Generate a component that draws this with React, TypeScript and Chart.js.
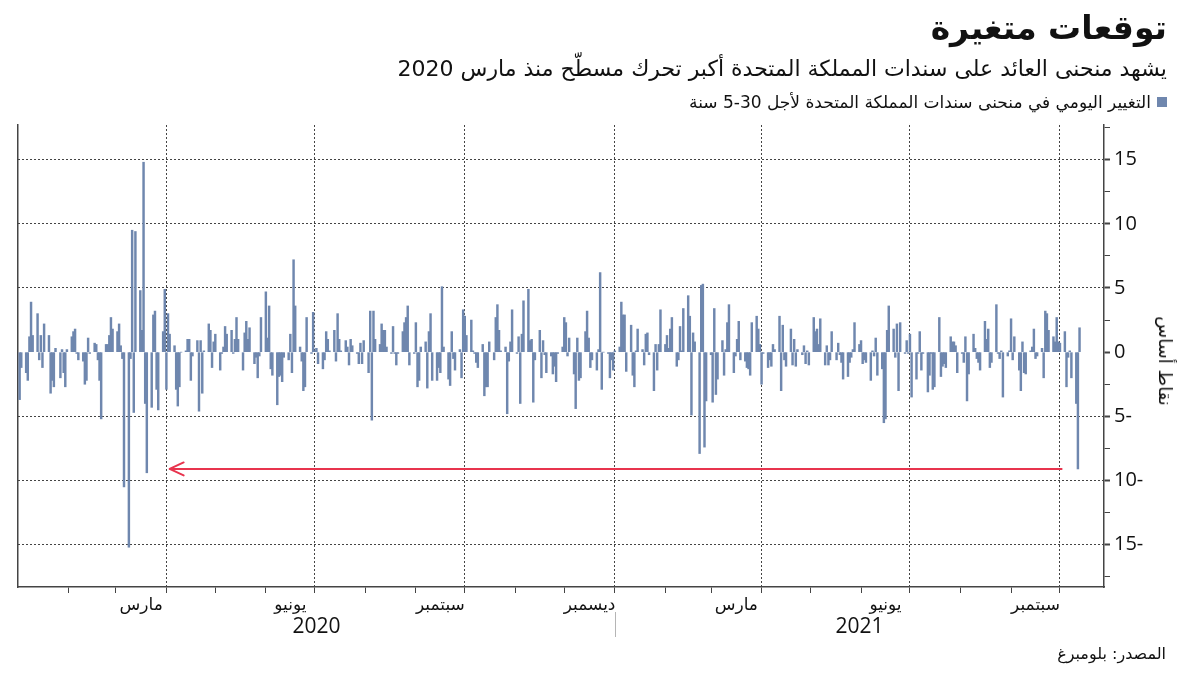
import React, { useEffect, useRef } from "react";
import { Chart, registerables } from "chart.js";

Chart.register(...registerables);

// ---------------- data ----------------
const EPOCH = "2020-01-01";
const FIRST_TRADING_DAY = "2020-01-02";
const X_MAX_DATE = "2021-10-28";

// Daily change in the UK 5s30s gilt curve (bp), one value per weekday
const CHANGES_2020_JAN_APR = [
  -3.7, -1.2, -1.6, -2.2, 1.2, 3.9, 1.3, 3.0, -0.6, 1.3,
  -1.2, 2.2, 1.3, -3.2, -2.2, -2.7, 0.3, -2.0, 0.2, -1.6,
  -2.7, 0.2, 1.2, 1.6, 1.8, -0.1, -0.6, -0.7, -2.5, -2.2,
  1.1, -0.1, 0.7, 0.6, -0.6, -2.2, -5.2, 0.6, 0.6, 1.3,
  2.7, 1.8, 1.6, 2.2, 0.5, -0.5, -10.5, -15.2, -0.5, 9.5,
  -4.7, 9.4, 4.8, 1.7, 14.8, -4.0, -9.4, -4.3, 2.9, 3.2,
  -2.9, -4.5, 1.6, 4.9, -2.9, 3.0, 1.4, 0.5, -2.9, -4.2,
  -2.7, 0.0, 0.1, 1.0, 1.0, -2.2, -0.3,
];
const CHANGES_2020_APR_AUG = [
  0.9, -4.6, 0.9, -3.2, 0.1, 2.2, 1.7, -1.2, 0.8, 1.4,
  -1.4, -0.1, 0.4, 2.0, 1.4, 1.7, -0.1, 1.0, 2.7, 1.0,
  -1.4, 1.5, 2.4, 1.0, 1.9, -0.9, -0.4, -2.0, -0.3, 2.7,
  4.7, 1.1, 3.6, -1.3, -1.8, -4.1, -1.9, -1.8, -2.3, -0.4,
  -0.6, 1.4, -1.6, 7.2, 3.6, 0.4, -0.7, -3.0, -2.7, 2.7,
  -0.1, 3.1, 0.1, 0.3, -0.9, -1.3, -0.6, 1.6, 1.0, 0.1,
  1.7, -0.7, 3.0, 1.0, 0.1, 0.9, 0.4, -1.0, 1.0, 0.5,
  -0.1, -0.9, 0.7, -0.9, 0.9, -1.6,
];
const CHANGES_2020_AUG_NOV = [
  3.2, -5.3, 3.2, 1.0, 0.6, 2.2, 1.7, 1.7, 0.4, -0.1,
  2.0, -0.1, -1.0, -0.1, 1.6, 2.3, 2.7, 3.6, -1.0, -0.1,
  2.3, -2.7, -2.2, 0.4, 0.8, -2.8, 1.6, 3.0, -2.2, -2.2,
  -1.2, -1.6, 5.1, 0.4, -2.1, -2.6, 1.6, -0.5, -1.4, 0.2,
  -2.0, 3.3, 2.8, 1.3, 2.5, 0.1, -0.1, -0.8, -1.2, 0.6,
  -3.4, -2.7, -2.7, 0.8, -0.6, 2.7, 3.7, 1.7, 0.1, 0.4,
  -4.8, -0.7, 0.8, 3.3, -0.1, 1.2, -4.0, 1.4, 4.0, 4.9,
  0.9, 1.0, -3.9, -0.6, 1.7, -2.0, 0.9,
];
const CHANGES_2020_NOV_2021_MAR = [
  -0.2, -1.6, -0.3, -1.7, -1.1, -2.3, -0.1, 0.4, 2.7, 2.3,
  -0.3, 1.1, -1.7, -4.4, 1.1, -2.2, -2.0, 1.6, 3.2, 1.1,
  -1.2, -0.6, -1.4, 0.2, 6.2, -2.9, 0.0, -0.1, -2.0, -0.6,
  -1.4, 0.1, 0.4, 3.9, 2.9, 2.9, -1.5, 2.1, -1.8, -2.7,
  0.1, 1.8, 0.2, -1.0, 1.4, 1.5, -0.2, -3.0, 0.6, -1.4,
  0.6, 3.3, 0.6, 1.3, 0.3, 1.8, 2.7, -1.1, -0.6, 2.0,
  0.1, 3.4, 4.4, 2.8, -4.9, 1.5, 0.8, -7.9, 5.2, 5.3,
  -7.4, -3.8, -0.2, -3.9, 3.4, -3.3, -2.1,
];
const CHANGES_2021_MAR_JUN = [
  0.9, -1.8, 0.2, 2.3, 3.7, -1.6, -0.3, 1.0, 2.4, -0.6,
  -0.7, -1.2, -1.3, -1.8, 2.3, 2.8, 1.8, 0.6, -2.5, -0.1,
  -1.2, -0.6, -1.1, 0.6, 0.2, 2.8, -3.0, 2.1, -0.6, -1.1,
  1.8, -1.0, 1.0, -1.1, 0.2, -0.2, 0.5, -0.9, 0.1, -1.0,
  2.7, 1.6, 1.8, 0.6, 2.6, -1.0, 0.5, -1.0, -0.6, 1.6,
  -0.6, 0.7, -0.2, -0.8, -2.1, -1.9, -0.8, -0.4, 0.2, 2.3,
  0.6, 0.9, -0.9, -0.6, -0.8, -2.2, 0.1, -0.3, 1.1, -1.8,
  -1.3, -5.5, -5.2, 1.7, 3.6,
];
const CHANGES_2021_JUN_OCT = [
  1.8, -0.4, 2.2, -3.0, 2.3, -0.1, 0.9, -0.1, 1.4, -3.5,
  -2.1, -0.1, 1.6, -1.4, -0.1, -3.1, -1.8, -0.1, -2.9, -2.7,
  2.7, -1.9, -1.1, -0.9, -1.2, 1.2, 0.8, 0.8, 0.5, -1.6,
  -0.1, -0.8, 1.2, -3.8, -1.7, 1.4, 0.3, -0.5, -0.8, -1.4,
  2.4, 1.0, 1.8, -1.2, -0.8, 3.7, -0.1, -0.5, 0.1, -3.5,
  -0.3, 0.1, 2.6, -0.6, 1.2, -1.4, -3.0, 0.8, -1.6, -1.7,
  0.1, 0.4, 1.8, -0.5, -0.3, 0.3, -2.0, 3.2, 3.0, 1.7,
  1.2, 0.8, 2.7, 0.8, 0.7, 1.6, -2.7, -0.4, 0.1, -2.0,
  -4.0, -9.1, 1.9,
];

const DAILY_CHANGES = [
  ...CHANGES_2020_JAN_APR,
  ...CHANGES_2020_APR_AUG,
  ...CHANGES_2020_AUG_NOV,
  ...CHANGES_2020_NOV_2021_MAR,
  ...CHANGES_2021_MAR_JUN,
  ...CHANGES_2021_JUN_OCT,
];

const MONTH_NAMES = ["", "", "مارس", "", "", "يونيو", "", "", "سبتمبر", "", "", "ديسمبر"];
const YEARS = [2020, 2021];
const Y_MIN = -18.3;
const Y_MAX = 17.7;
const Y_TICK_STEP = 2.5;
const Y_LABEL_STEP = 5;

const ARROW_VALUE = -9.1;
const ARROW_FROM_DATE = "2021-10-02";
const ARROW_TO_DATE = "2020-04-03";

const TITLE = "توقعات متغيرة";
const SUBTITLE = "يشهد منحنى العائد على سندات المملكة المتحدة أكبر تحرك مسطّح منذ مارس 2020";
const LEGEND_LABEL = "التغيير اليومي في منحنى سندات المملكة المتحدة لأجل 30-5 سنة";
const Y_TITLE = "نقاط أساس";
const SOURCE = "المصدر: بلومبرغ";

const BAR_COLOR = "#6f87ae";
const ARROW_COLOR = "#e8344e";
const ARABIC_FONT = '"DejaVu Sans", sans-serif';
const NUM_FONT = '"Open Sans", "DejaVu Sans", sans-serif';

// ---------------- helpers ----------------
const DAY_MS = 86400000;
const dayOf = (iso: string) => (Date.parse(iso) - Date.parse(EPOCH)) / DAY_MS;
const dayOfYM = (y: number, m: number) => (Date.UTC(y, m, 1) - Date.parse(EPOCH)) / DAY_MS;

function tradingDays(count: number): number[] {
  const out: number[] = [];
  let t = Date.parse(FIRST_TRADING_DAY);
  while (out.length < count) {
    const wd = new Date(t).getUTCDay();
    if (wd !== 0 && wd !== 6) out.push((t - Date.parse(EPOCH)) / DAY_MS);
    t += DAY_MS;
  }
  return out;
}

const X_MIN = 0;
const X_MAX = dayOf(X_MAX_DATE);

type XTick = { value: number; label: string; boundary: boolean; quarter: boolean };
function buildXTicks(): XTick[] {
  const ticks: XTick[] = [];
  for (let i = 0; i < 30; i++) {
    const y = 2020 + Math.floor(i / 12);
    const m = i % 12;
    const start = dayOfYM(y, m);
    const next = dayOfYM(y, m + 1);
    if (start > X_MAX) break;
    ticks.push({ value: start, label: "", boundary: start > X_MIN, quarter: m % 3 === 0 && start > X_MIN });
    const name = MONTH_NAMES[m];
    if (name && next <= X_MAX + 31) {
      ticks.push({ value: (start + next) / 2, label: name, boundary: false, quarter: false });
    }
  }
  return ticks.sort((a, b) => a.value - b.value);
}

const X_TICKS = buildXTicks();
const findXTick = (v: number) => X_TICKS.find((t) => Math.abs(t.value - v) < 1e-6);

const annotationPlugin = {
  id: "annotations",
  afterDatasetsDraw(chart: any) {
    const { ctx, scales } = chart;
    const x = scales.x;
    const y = scales.y;
    const py = y.getPixelForValue(ARROW_VALUE);
    const x1 = x.getPixelForValue(dayOf(ARROW_FROM_DATE));
    const x2 = x.getPixelForValue(dayOf(ARROW_TO_DATE));
    ctx.save();
    ctx.strokeStyle = ARROW_COLOR;
    ctx.lineWidth = 2;
    ctx.lineCap = "round";
    ctx.lineJoin = "round";
    ctx.beginPath();
    ctx.moveTo(x1, py);
    ctx.lineTo(x2, py);
    ctx.moveTo(x2 + 14, py - 6.5);
    ctx.lineTo(x2, py);
    ctx.lineTo(x2 + 14, py + 6.5);
    ctx.stroke();
    ctx.restore();
  },
  afterDraw(chart: any) {
    const { ctx, scales, chartArea } = chart;
    const x = scales.x;
    ctx.save();
    ctx.fillStyle = "#111";
    ctx.font = `21px ${NUM_FONT}`;
    ctx.textAlign = "center";
    ctx.textBaseline = "middle";
    YEARS.forEach((yr) => {
      const s = Math.max(dayOfYM(yr, 0), x.min);
      const e = Math.min(dayOfYM(yr + 1, 0), x.max);
      const cx = (x.getPixelForValue(s) + x.getPixelForValue(e)) / 2;
      ctx.fillText(String(yr), cx, chartArea.bottom + 40);
      const b = dayOfYM(yr + 1, 0);
      if (b > x.min && b < x.max) {
        const bx = Math.round(x.getPixelForValue(b)) + 0.5;
        ctx.strokeStyle = "#b5b5b5";
        ctx.lineWidth = 1;
        ctx.beginPath();
        ctx.moveTo(bx, chartArea.bottom + 25);
        ctx.lineTo(bx, chartArea.bottom + 50);
        ctx.stroke();
      }
    });
    ctx.restore();
  },
};

export default function App() {
  const canvasRef = useRef<HTMLCanvasElement | null>(null);

  useEffect(() => {
    const days = tradingDays(DAILY_CHANGES.length);
    const points = DAILY_CHANGES.map((v, i) => ({ x: days[i], y: v }));
    const yTicks: number[] = [];
    for (let v = Math.ceil(Y_MIN / Y_TICK_STEP) * Y_TICK_STEP; v <= Y_MAX; v += Y_TICK_STEP) yTicks.push(v);
    const isMajor = (v: number) => Math.abs(v / Y_LABEL_STEP - Math.round(v / Y_LABEL_STEP)) < 1e-6;

    const chart = new Chart(canvasRef.current as HTMLCanvasElement, {
      type: "bar",
      data: {
        datasets: [
          {
            data: points as any,
            backgroundColor: BAR_COLOR,
            borderWidth: 0,
            barThickness: 1.8,
          } as any,
        ],
      },
      plugins: [annotationPlugin],
      options: {
        responsive: false,
        animation: false,
        devicePixelRatio: 1,
        layout: { padding: { left: 18, top: 125, right: 36, bottom: 60 } },
        plugins: { legend: { display: false }, tooltip: { enabled: false } },
        scales: {
          x: {
            type: "linear",
            offset: false,
            min: X_MIN,
            max: X_MAX,
            afterBuildTicks: (axis: any) => {
              axis.ticks = X_TICKS.map((t) => ({ value: t.value }));
            },
            afterFit: (axis: any) => {
              axis.height = 28;
            },
            ticks: {
              autoSkip: false,
              maxRotation: 0,
              padding: 2,
              color: "#111",
              font: { family: ARABIC_FONT, size: 17 },
              callback: (v: any) => findXTick(Number(v))?.label ?? "",
            },
            grid: {
              offset: false,
              color: (c: any) => (findXTick(c.tick?.value)?.quarter ? "#444" : "rgba(0,0,0,0)"),
              lineWidth: 1,
              tickLength: 6,
              tickColor: (c: any) => (findXTick(c.tick?.value)?.boundary ? "#444" : "rgba(0,0,0,0)"),
              tickWidth: 1,
            },
            border: { display: true, color: "#444", width: 1.5, dash: [2, 2] },
          } as any,
          y: {
            type: "linear",
            position: "right",
            min: Y_MIN,
            max: Y_MAX,
            afterBuildTicks: (axis: any) => {
              axis.ticks = yTicks.map((v) => ({ value: v }));
            },
            afterFit: (axis: any) => {
              axis.width = 60;
            },
            ticks: {
              padding: 4,
              color: "#111",
              font: { family: NUM_FONT, size: 20 },
              callback: (v: any) => {
                const n = Number(v);
                if (!isMajor(n)) return "";
                return n < 0 ? `${Math.abs(n)}-` : `${n}`;
              },
            },
            grid: {
              color: (c: any) => {
                const v = c.tick?.value;
                return v !== undefined && isMajor(v) && Math.abs(v) > 1e-6 ? "#444" : "rgba(0,0,0,0)";
              },
              lineWidth: 1,
              tickLength: 6,
              tickColor: "#444",
              tickWidth: (c: any) => (isMajor(c.tick?.value) ? 2 : 1),
            },
            border: { display: true, color: "#444", width: 1.5, dash: [2, 2] },
          } as any,
          yLeft: {
            type: "linear",
            position: "left",
            min: Y_MIN,
            max: Y_MAX,
            ticks: { display: false },
            grid: { display: false, drawTicks: false },
            afterFit: (axis: any) => {
              axis.width = 0;
            },
            border: { display: true, color: "#444", width: 1.5 },
          } as any,
        },
      },
    });
    return () => chart.destroy();
  }, []);

  const textBase: React.CSSProperties = {
    position: "absolute",
    direction: "rtl",
    textAlign: "right",
    whiteSpace: "nowrap",
    color: "#111",
    fontFamily: ARABIC_FONT,
  };

  return (
    <div style={{ position: "absolute", left: 0, top: 0, width: 1200, height: 675, background: "#fff", overflow: "hidden" }}>
      <canvas ref={canvasRef} width={1200} height={675} style={{ position: "absolute", left: 0, top: 0, width: 1200, height: 675 }} />
      <div style={{ ...textBase, right: 33, top: 8, fontSize: 33, fontWeight: 700, lineHeight: "40px" }}>{TITLE}</div>
      <div style={{ ...textBase, right: 33, top: 54, fontSize: 22, lineHeight: "30px" }}>{SUBTITLE}</div>
      <div style={{ ...textBase, right: 33, top: 91, fontSize: 17, lineHeight: "22px", display: "flex", alignItems: "center", gap: 6 }}>
        <span style={{ display: "inline-block", width: 10, height: 10, background: BAR_COLOR }} />
        <span>{LEGEND_LABEL}</span>
      </div>
      <div
        style={{
          ...textBase,
          left: 1165,
          top: 361,
          fontSize: 18,
          lineHeight: "20px",
          transform: "translate(-50%, -50%) rotate(90deg)",
          textAlign: "center",
        }}
      >
        {Y_TITLE}
      </div>
      <div style={{ ...textBase, right: 34, top: 644, fontSize: 16, lineHeight: "20px" }}>{SOURCE}</div>
    </div>
  );
}
